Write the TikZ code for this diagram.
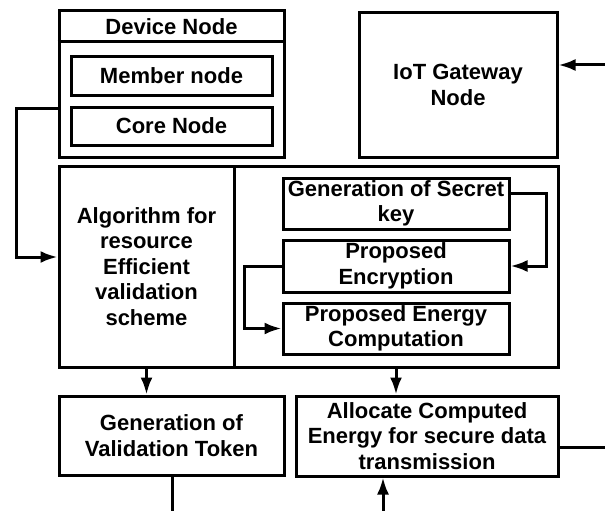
\documentclass[tikz,border=0pt]{standalone}
\usepackage{fontspec}
\setmainfont{Liberation Sans}
\usetikzlibrary{arrows.meta}
\begin{document}
\begin{tikzpicture}[>={Latex[length=17pt,width=12pt]}, x=1pt, y=-1pt, line width=3pt,
  box/.style={draw, align=center, inner sep=0pt, font=\fontsize{22}{25.5}\selectfont\bfseries}]
\useasboundingbox (0,0) rectangle (605,511);
\node[box, minimum width=225, minimum height=146] (device) at (171.5,84) {};
\node[font=\fontsize{22}{25.5}\selectfont\bfseries] (devtitle) at (171.5,27) {Device Node};
\draw ([yshift=-32pt]device.north west)--([yshift=-32pt]device.north east);
\node[box, minimum width=201, minimum height=38] (member) at (171.5,76) {Member node};
\node[box, minimum width=201, minimum height=38] (core) at (171.5,126) {Core Node};
\node[box, minimum width=198, minimum height=144] (gateway) at (458,85) {IoT Gateway\\Node};
\node[box, minimum width=175, minimum height=201] (algo) at (146.5,266.5) {Algorithm for\\resource\\Efficient\\validation\\scheme};
\node[box, minimum width=324, minimum height=201] (scheme) at (396,266.5) {};
\node[box, minimum width=226, minimum height=51] (secret) at (396,203.5) {Generation of Secret\\key};
\node[box, minimum width=226, minimum height=52] (encrypt) at (396,266) {Proposed\\Encryption};
\node[box, minimum width=226, minimum height=51] (energy) at (396,328.5) {Proposed Energy\\Computation};
\node[box, minimum width=225, minimum height=79] (token) at (171.5,435.5) {Generation of\\Validation Token};
\node[box, minimum width=262, minimum height=80] (allocate) at (427,436) {Allocate Computed\\Energy for secure data\\transmission};
\coordinate (gwin) at (605,65);
\coordinate (tokout) at (172,511);
\coordinate (allocout) at (605,447);
\coordinate (allocin) at (383,511);
\draw[->] ([yshift=-24pt]device.west)--++(-41,0)|-([yshift=9.5pt]algo.west);
\draw[->] (gwin)--(gwin-|gateway.east);
\draw[->] ([yshift=10pt]secret.east)--++(36,0)|-(encrypt.east);
\draw[->] (encrypt.west)--++(-37,0)|-(energy.west);
\draw[->] (algo.south)--(algo.south|-token.north);
\draw[->] (scheme.south)--(scheme.south|-allocate.north);
\draw (token.south-|tokout)--(tokout);
\draw (allocate.east|-allocout)--(allocout);
\draw[->] (allocin)--(allocin|-allocate.south);
\end{tikzpicture}
\end{document}
